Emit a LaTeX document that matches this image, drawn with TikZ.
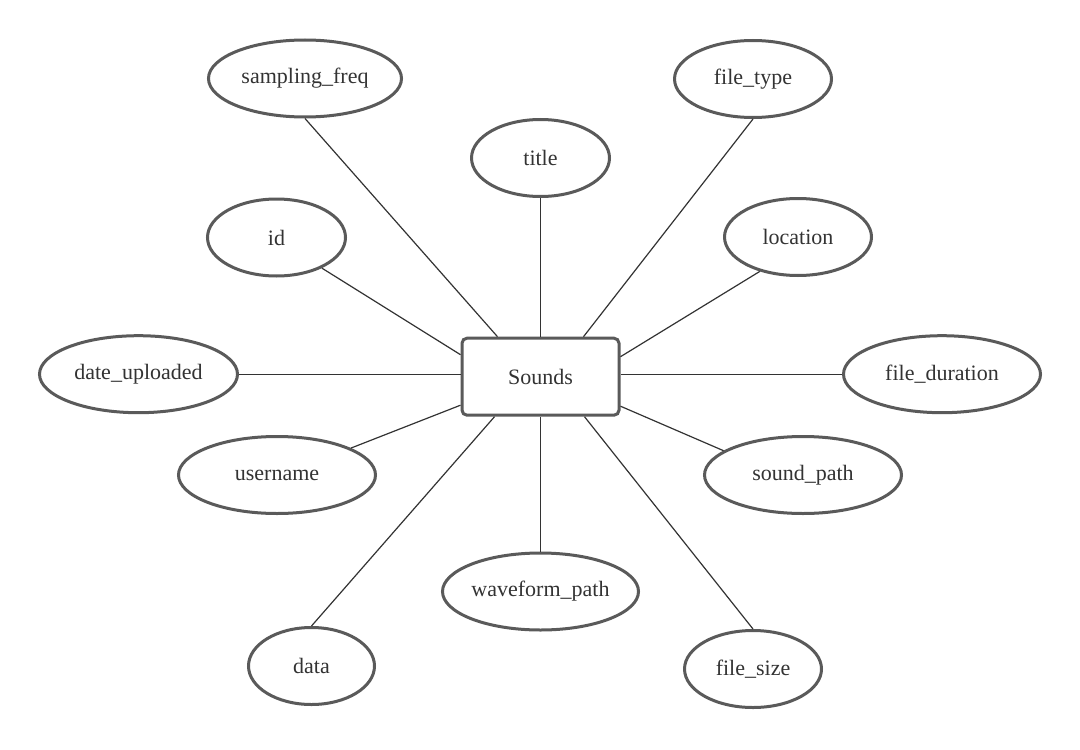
\documentclass[tikz,border=0pt]{standalone}
\usepackage{fontspec}
\setmainfont{Liberation Serif}
\usetikzlibrary{shapes.geometric,calc}
\definecolor{bordergray}{HTML}{5A5A5A}
\definecolor{linegray}{HTML}{333333}
\definecolor{textgray}{HTML}{333333}
\tikzset{
  attr/.style={ellipse, draw=bordergray, line width=1.5pt, inner sep=0pt,
    minimum height=38.5pt, text=textgray, font=\fontsize{11}{13}\selectfont},
  entity/.style={rectangle, rounded corners=2.5pt, draw=bordergray, line width=1.5pt,
    minimum width=78.5pt, minimum height=38.5pt, text=textgray, font=\fontsize{11}{13}\selectfont},
  conn/.style={draw=linegray, line width=0.6pt}
}
\begin{document}
\begin{tikzpicture}[x=0.5pt,y=-0.5pt]
\useasboundingbox[fill=white] (0,0) rectangle (1080,749);

\node[entity] (snd) at (540.5,376.7) {Sounds};

\node[attr, minimum width=96.5pt] (sf) at (305,78.5) {sampling\_freq};
\node[attr, minimum width=78.5pt] (ft) at (753,79) {file\_type};
\node[attr, minimum width=69pt] (ti) at (540.5,158) {title};
\node[attr, minimum width=69pt] (id) at (276.5,237.5) {id};
\node[attr, minimum width=73.5pt] (lo) at (798,237) {location};
\node[attr, minimum width=99pt] (du) at (138.5,374.2) {date\_uploaded};
\node[attr, minimum width=98.5pt] (fd) at (942,374.2) {file\_duration};
\node[attr, minimum width=98.5pt] (un) at (277,475) {username};
\node[attr, minimum width=98.5pt] (sp) at (803,475) {sound\_path};
\node[attr, minimum width=98pt] (wp) at (540.5,591.5) {waveform\_path};
\node[attr, minimum width=63pt] (da) at (311.5,666) {data};
\node[attr, minimum width=68.5pt] (fs) at (753,669) {file\_size};

\draw[conn] (sf.south) -- ($(snd.north)+(-43,0)$);
\draw[conn] (ti.south) -- (snd.north);
\draw[conn] (ft.south) -- ($(snd.north)+(43,0)$);
\draw[conn] (id.-34) -- ($(snd.west)+(0,-22)$);
\draw[conn] (du.east) -- ($(snd.west)+(0,-2.5)$);
\draw[conn] (un.20) -- ($(snd.west)+(0,28.5)$);
\draw[conn] (lo.-138) -- ($(snd.east)+(0,-20)$);
\draw[conn] (fd.west) -- ($(snd.east)+(0,-2.5)$);
\draw[conn] (sp.163) -- ($(snd.east)+(0,29.5)$);
\draw[conn] (da.north) -- ($(snd.south)+(-46,0)$);
\draw[conn] (wp.north) -- (snd.south);
\draw[conn] (fs.north) -- ($(snd.south)+(44,0)$);
\end{tikzpicture}
\end{document}
